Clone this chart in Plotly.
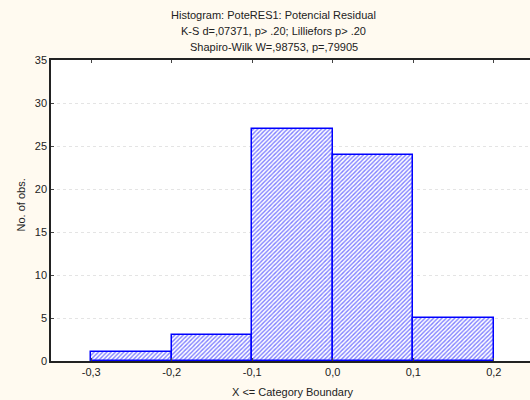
import plotly.graph_objects as go

# Data
bin_left = [-0.3, -0.2, -0.1, 0.0, 0.1]
bin_right = [-0.2, -0.1, 0.0, 0.1, 0.2]
counts = [1, 3, 27, 24, 5]
x_ticks = [-0.3, -0.2, -0.1, 0.0, 0.1, 0.2]
x_tick_labels = ["-0,3", "-0,2", "-0,1", "0,0", "0,1", "0,2"]
y_ticks = [0, 5, 10, 15, 20, 25, 30, 35]
title_lines = [
    "Histogram: PoteRES1: Potencial Residual",
    "K-S d=,07371, p> .20; Lilliefors p> .20",
    "Shapiro-Wilk W=,98753, p=,79905",
]

centers = [(a + b) / 2 for a, b in zip(bin_left, bin_right)]
widths = [b - a for a, b in zip(bin_left, bin_right)]

FONT = "Liberation Sans, Arial, sans-serif"
TXT = "#222"
BG = "#FFFAF0"

fig = go.Figure()
fig.add_trace(go.Bar(
    x=centers, y=counts, width=widths,
    marker=dict(
        color="white",
        line=dict(color="#0000ff", width=1.5),
        pattern=dict(shape="/", fgcolor="#0000ff", bgcolor="white", size=3, solidity=0.45),
    ),
    showlegend=False,
))

annotations = []
for i, line in enumerate(title_lines):
    annotations.append(dict(
        text=line, xref="paper", yref="paper", x=0.5, y=1,
        xshift=-17, yshift=45 - 16 * i, showarrow=False,
        xanchor="center", yanchor="middle",
        font=dict(family=FONT, size=11, color=TXT),
    ))
annotations.append(dict(
    text="X <= Category Boundary", xref="paper", yref="paper", x=0.5, y=0,
    xshift=2, yshift=-31, showarrow=False, xanchor="center", yanchor="middle",
    font=dict(family=FONT, size=11, color=TXT),
))
annotations.append(dict(
    text="No. of obs.", xref="paper", yref="paper", x=0, y=0.5,
    xshift=-31, yshift=5, showarrow=False, xanchor="center", yanchor="middle",
    textangle=-90, font=dict(family=FONT, size=11, color=TXT),
))

fig.update_layout(
    width=530, height=400,
    margin=dict(l=51, r=0, t=60, b=39, autoexpand=False),
    paper_bgcolor=BG,
    plot_bgcolor="white",
    font=dict(family=FONT, size=11, color=TXT),
    bargap=0,
    annotations=annotations,
    xaxis=dict(
        range=[-0.35, 0.245], automargin=False,
        tickvals=x_ticks, ticktext=x_tick_labels,
        showline=True, linecolor="#222", linewidth=1.5,
        mirror="ticks", ticks="inside", ticklen=3, tickcolor="#444",
        showgrid=False, zeroline=False,
        tickfont=dict(family=FONT, size=11, color=TXT),
    ),
    yaxis=dict(
        range=[0, 35], automargin=False,
        tickvals=y_ticks,
        showline=True, linecolor="#222", linewidth=1.5,
        ticks="inside", ticklen=3, tickcolor="#444",
        showgrid=True, gridcolor="#e4e4e4", griddash="dot", gridwidth=1,
        zeroline=False,
        tickfont=dict(family=FONT, size=11, color=TXT),
    ),
)

fig.write_html(
    "out.html",
    config={"displayModeBar": False},
    post_script="document.body.style.margin='0';document.body.style.background='%s';" % BG,
)
